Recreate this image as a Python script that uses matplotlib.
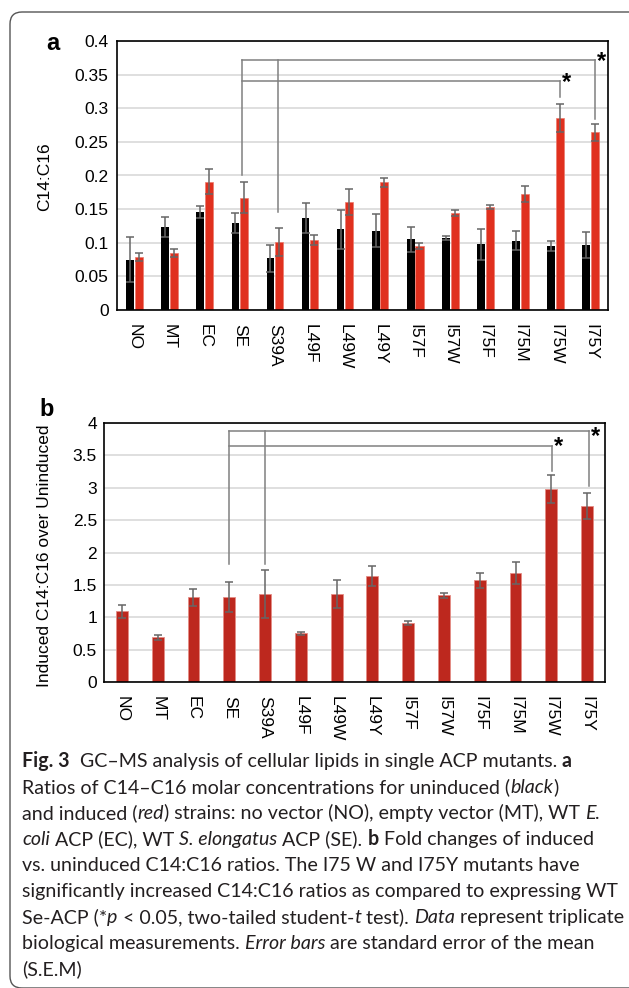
import matplotlib
matplotlib.use('Agg')
import matplotlib.pyplot as plt
import matplotlib.patches as mpatches
import numpy as np

plt.rcParams['font.family'] = ['Liberation Sans', 'DejaVu Sans']
plt.rcParams['font.size'] = 12.5

strains = ['NO', 'MT', 'EC', 'SE', 'S39A', 'L49F', 'L49W', 'L49Y',
           'I57F', 'I57W', 'I75F', 'I75M', 'I75W', 'I75Y']

# panel a: C14:C16 ratio, uninduced (black) and induced (red)
unind = [0.075, 0.124, 0.146, 0.129, 0.077, 0.137, 0.120, 0.118,
         0.105, 0.107, 0.098, 0.103, 0.095, 0.097]
unind_err = [0.033, 0.015, 0.009, 0.015, 0.020, 0.022, 0.029, 0.025,
             0.019, 0.0035, 0.023, 0.014, 0.008, 0.019]
ind = [0.079, 0.085, 0.191, 0.167, 0.101, 0.104, 0.161, 0.190,
       0.095, 0.144, 0.153, 0.173, 0.286, 0.264]
ind_err = [0.006, 0.006, 0.018, 0.023, 0.021, 0.008, 0.019, 0.007,
           0.004, 0.0045, 0.0035, 0.012, 0.021, 0.013]
a_ticks = ['0', '0.05', '0.1', '0.15', '0.2', '0.25', '0.3', '0.35', '0.4']

# panel b: fold change induced / uninduced
fold = [1.09, 0.69, 1.31, 1.31, 1.36, 0.75, 1.36, 1.63,
        0.91, 1.34, 1.57, 1.68, 2.98, 2.72]
fold_err = [0.10, 0.04, 0.13, 0.23, 0.37, 0.026, 0.22, 0.155,
            0.026, 0.036, 0.114, 0.17, 0.21, 0.20]
b_ticks = ['0', '0.5', '1', '1.5', '2', '2.5', '3', '3.5', '4']

W, H = 629, 988
fig = plt.figure(figsize=(W / 100, H / 100), dpi=100)

def px_axes(l, t, r, b):
    return fig.add_axes([l / W, 1 - b / H, (r - l) / W, (b - t) / H])

grid_c = '#d9d9d9'
err_c = '#666666'
brk_c = '#808080'
tick_fs = 12.5
x = np.arange(len(strains))

def style_axes(ax, ymax, step, labels, pad):
    ax.set_xlim(-0.5, len(strains) - 0.5)
    ax.set_ylim(0, ymax)
    ax.set_yticks(np.arange(0, ymax + step / 2, step))
    ax.set_yticklabels(labels, fontsize=tick_fs)
    ax.yaxis.grid(True, color=grid_c, linewidth=1.2)
    ax.set_axisbelow(True)
    ax.set_xticks(x)
    ax.set_xticklabels(strains, rotation=270, fontsize=tick_fs)
    ax.tick_params(length=0)
    ax.tick_params(axis='y', pad=pad)
    ax.tick_params(axis='x', pad=10)
    for s in ax.spines.values():
        s.set_color('black')
        s.set_linewidth(1.2)

# ---- panel a
ax1 = px_axes(117, 41, 608, 310)
ekw = dict(ecolor=err_c, elinewidth=1.1, capsize=3, capthick=1.1)
ax1.bar(x - 0.125, unind, 0.22, color='black', yerr=unind_err, error_kw=ekw)
ax1.bar(x + 0.125, ind, 0.23, color='#e0301e', edgecolor='#ec7a6c',
        linewidth=0.5, yerr=ind_err, error_kw=ekw)
style_axes(ax1, 0.4, 0.05, a_ticks, 6)

ax1.plot([3.05, 3.05], [0.200, 0.372], color=brk_c, lw=1.1)
ax1.plot([3.05, 13.13], [0.372, 0.372], color=brk_c, lw=1.1)
ax1.plot([3.05, 12.13], [0.3405, 0.3405], color=brk_c, lw=1.1)
ax1.plot([4.09, 4.09], [0.145, 0.372], color=brk_c, lw=1.1)
ax1.plot([12.13, 12.13], [0.316, 0.3405], color=brk_c, lw=1.1)
ax1.plot([13.13, 13.13], [0.2835, 0.372], color=brk_c, lw=1.1)
ax1.text(12.18, 0.338, '*', fontsize=17, fontweight='bold', va='center')
ax1.text(13.18, 0.370, '*', fontsize=17, fontweight='bold', va='center')

fig.text(45 / W, 1 - 177 / H, 'C14:C16', rotation=90, fontsize=12.5,
         ha='center', va='center')
fig.text(53 / W, 1 - 44 / H, 'a', fontsize=17, fontweight='bold',
         ha='center', va='center')

# ---- panel b
ax2 = px_axes(104, 423, 605, 682)
ax2.bar(x, fold, 0.33, color='#bd281e', edgecolor='#e58d85', linewidth=0.6,
        yerr=fold_err, error_kw=ekw)
style_axes(ax2, 4, 0.5, b_ticks, 5)

ax2.plot([3.0, 3.0], [1.817, 3.871], color=brk_c, lw=1.1)
ax2.plot([3.0, 13.06], [3.871, 3.871], color=brk_c, lw=1.1)
ax2.plot([3.0, 12.01], [3.644, 3.644], color=brk_c, lw=1.1)
ax2.plot([4.0, 4.0], [1.817, 3.871], color=brk_c, lw=1.1)
ax2.plot([12.01, 12.01], [3.262, 3.644], color=brk_c, lw=1.1)
ax2.plot([13.06, 13.06], [3.03, 3.871], color=brk_c, lw=1.1)
ax2.text(12.06, 3.63, '*', fontsize=17, fontweight='bold', va='center')
ax2.text(13.11, 3.79, '*', fontsize=17, fontweight='bold', va='center')

fig.text(45 / W, 1 - 556 / H, 'Induced C14:C16 over Uninduced', rotation=90,
         fontsize=12.5, ha='center', va='center')
fig.text(47 / W, 1 - 410 / H, 'b', fontsize=17, fontweight='bold',
         ha='center', va='center')

# ---- outer frame
frame = mpatches.FancyBboxPatch((10, 0), 640, H - 12,
                                boxstyle='round,pad=0,rounding_size=12',
                                transform=None, fill=False,
                                edgecolor='#555555', linewidth=1.0)
fig.patches.append(frame)

# ---- caption
N, B, I = ('normal', 'normal'), ('bold', 'normal'), ('normal', 'italic')
caption = [
    [('Fig. 3', B), ('  GC\u2013MS analysis of cellular lipids in single ACP mutants. ', N), ('a', B)],
    [('Ratios of C14\u2013C16 molar concentrations for uninduced (', N), ('black', I), (')', N)],
    [('and induced (', N), ('red', I), (') strains: no vector (NO), empty vector (MT), WT ', N), ('E.', I)],
    [('coli', I), (' ACP (EC), WT ', N), ('S. elongatus', I), (' ACP (SE). ', N), ('b', B),
     (' Fold changes of induced', N)],
    [('vs. uninduced C14:C16 ratios. The I75 W and I75Y mutants have', N)],
    [('significantly increased C14:C16 ratios as compared to expressing WT', N)],
    [('Se-ACP (*', N), ('p', I), (' < 0.05, two-tailed student-', N), ('t', I), (' test). ', N),
     ('Data', I), (' represent triplicate', N)],
    [('biological measurements. ', N), ('Error bars', I), (' are standard error of the mean', N)],
    [('(S.E.M)', N)],
]
cap_font = ['Lato', 'DejaVu Sans']
renderer = fig.canvas.get_renderer()

def run_width(s, wt, st, size):
    t = fig.text(0, 0, s, fontsize=size, family=cap_font, fontweight=wt,
                 fontstyle=st)
    w = t.get_window_extent(renderer).width
    t.remove()
    return w

def line_width(runs, size):
    return sum(run_width(s, wt, st, size) for s, (wt, st) in runs)

size = 10.0
size *= 596 / line_width(caption[5], size)
x0 = 22
for k, runs in enumerate(caption):
    xp = x0
    yb = 767 + 26 * k
    for s, (wt, st) in runs:
        fig.text(xp / W, 1 - yb / H, s, fontsize=size, family=cap_font,
                 fontweight=wt, fontstyle=st, va='baseline', ha='left',
                 color='#231f20')
        xp += run_width(s, wt, st, size)

fig.savefig('out.png', dpi=100)
